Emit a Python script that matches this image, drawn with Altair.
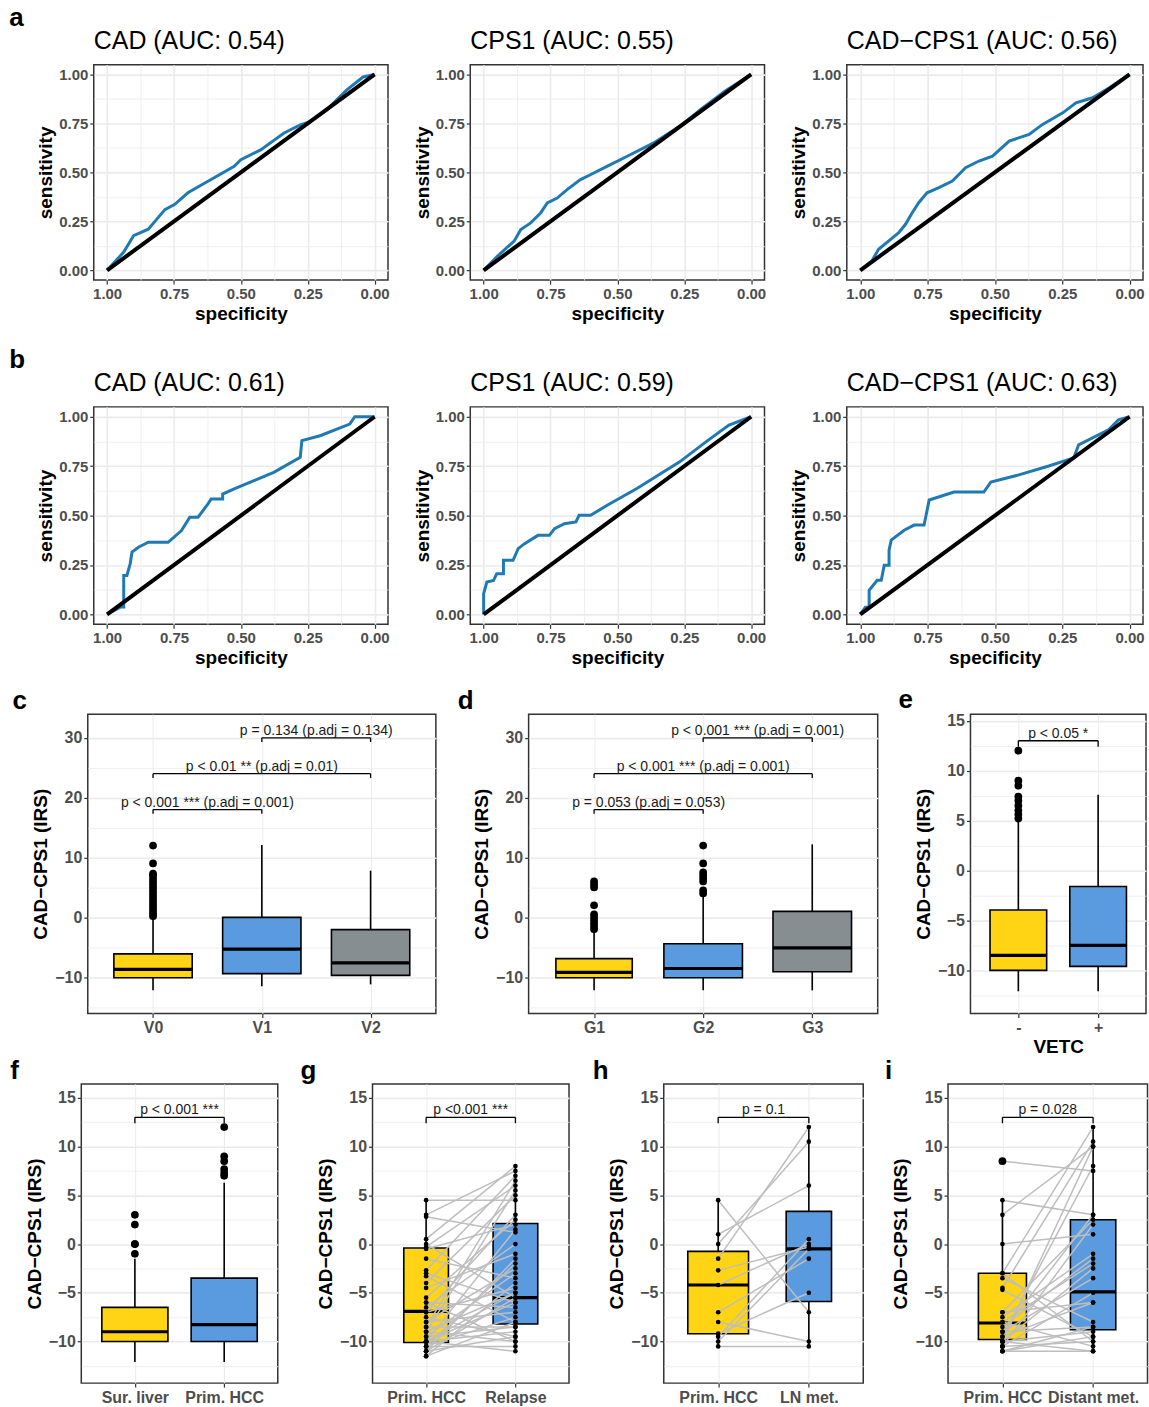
import altair as alt
import pandas as pd

FONT = "Liberation Sans"
ROC_BLUE = "#1f7ab3"
YELLOW = "#FFD414"
BLUE = "#5A9BE0"
GREY = "#878E92"
GRID = "#EBEBEB"

# ---------------- ROC data (specificity, sensitivity) ----------------
a1_spec = [1.0, 0.938, 0.901, 0.846, 0.815, 0.784, 0.747, 0.698, 0.623, 0.525, 0.5, 0.426, 0.34, 0.278, 0.241, 0.18, 0.105, 0.043, 0.0]
a1_sens = [0.0, 0.093, 0.177, 0.21, 0.26, 0.31, 0.337, 0.396, 0.455, 0.531, 0.565, 0.615, 0.70, 0.742, 0.759, 0.818, 0.92, 0.987, 1.0]
a2_spec = [1.0, 0.948, 0.886, 0.861, 0.824, 0.787, 0.762, 0.725, 0.688, 0.638, 0.601, 0.539, 0.465, 0.366, 0.267, 0.18, 0.093, 0.0]
a2_sens = [0.0, 0.073, 0.149, 0.208, 0.242, 0.293, 0.344, 0.369, 0.412, 0.463, 0.488, 0.531, 0.581, 0.649, 0.735, 0.83, 0.92, 1.0]
a3_spec = [1.0, 0.957, 0.932, 0.894, 0.857, 0.832, 0.807, 0.783, 0.752, 0.708, 0.658, 0.609, 0.559, 0.509, 0.447, 0.373, 0.323, 0.248, 0.199, 0.137, 0.075, 0.0]
a3_sens = [0.0, 0.048, 0.107, 0.15, 0.192, 0.235, 0.294, 0.345, 0.396, 0.422, 0.456, 0.524, 0.558, 0.583, 0.66, 0.694, 0.745, 0.804, 0.855, 0.881, 0.932, 1.0]
b1_spec = [1.0, 0.951, 0.938, 0.938, 0.926, 0.914, 0.907, 0.883, 0.846, 0.772, 0.722, 0.691, 0.66, 0.623, 0.611, 0.568, 0.568, 0.525, 0.451, 0.377, 0.278, 0.272, 0.204, 0.093, 0.074, 0.0]
b1_sens = [0.0, 0.037, 0.037, 0.197, 0.197, 0.256, 0.315, 0.34, 0.365, 0.365, 0.424, 0.492, 0.492, 0.559, 0.584, 0.584, 0.609, 0.635, 0.677, 0.719, 0.795, 0.879, 0.904, 0.963, 1.0, 1.0]
b2_spec = [1.0, 1.0, 0.988, 0.963, 0.951, 0.926, 0.926, 0.89, 0.871, 0.847, 0.797, 0.754, 0.735, 0.698, 0.655, 0.643, 0.6, 0.538, 0.427, 0.267, 0.169, 0.083, 0.0]
b2_sens = [0.0, 0.105, 0.164, 0.172, 0.206, 0.206, 0.274, 0.274, 0.333, 0.358, 0.4, 0.4, 0.434, 0.459, 0.468, 0.502, 0.502, 0.552, 0.637, 0.772, 0.873, 0.958, 1.0]
b3_spec = [1.0, 0.981, 0.967, 0.967, 0.937, 0.922, 0.911, 0.893, 0.893, 0.885, 0.837, 0.8, 0.763, 0.744, 0.652, 0.541, 0.515, 0.411, 0.3, 0.207, 0.189, 0.078, 0.041, 0.0]
b3_sens = [0.0, 0.036, 0.036, 0.122, 0.173, 0.173, 0.249, 0.249, 0.325, 0.376, 0.426, 0.452, 0.452, 0.579, 0.619, 0.619, 0.67, 0.706, 0.751, 0.792, 0.858, 0.934, 0.985, 1.0]

roc_titles_a = ["CAD (AUC: 0.54)", "CPS1 (AUC: 0.55)", "CAD\u2212CPS1 (AUC: 0.56)"]
roc_titles_b = ["CAD (AUC: 0.61)", "CPS1 (AUC: 0.59)", "CAD\u2212CPS1 (AUC: 0.63)"]

# ---------------- Box data ----------------
c_groups = ["V0", "V1", "V2"]
c_q1 = [-10.1, -9.4, -9.7]
c_med = [-8.7, -5.3, -7.6]
c_q3 = [-6.1, 0.0, -2.05]
c_lo = [-12.2, -11.5, -11.2]
c_hi = [0.0, 12.1, 7.8]
c_out_idx = [0] * 18
c_out_val = [0.2, 0.6, 1.0, 1.5, 2.0, 2.5, 3.0, 3.5, 4.0, 4.5, 5.0, 5.5, 6.0, 6.5, 7.0, 7.3, 9.0, 12.0]
c_brackets = [(1, 2, 18, "p < 0.001 *** (p.adj = 0.001)"),
              (1, 3, 24, "p < 0.01 ** (p.adj = 0.01)"),
              (2, 3, 30, "p = 0.134 (p.adj = 0.134)")]

d_groups = ["G1", "G2", "G3"]
d_q1 = [-10.1, -10.1, -9.1]
d_med = [-9.2, -8.55, -5.1]
d_q3 = [-6.9, -4.4, 1.0]
d_lo = [-12.2, -12.2, -12.2]
d_hi = [-2.4, 3.7, 12.2]
d_out_idx = [0] * 10 + [1] * 8
d_out_val = [-2.0, -1.5, -1.0, -0.5, 0.0, 0.5, 2.0, 5.0, 5.5, 6.0,
             4.0, 4.5, 6.0, 6.5, 7.0, 7.5, 9.0, 12.0]
d_brackets = [(1, 2, 18, "p = 0.053 (p.adj = 0.053)"),
              (1, 3, 24, "p < 0.001 *** (p.adj = 0.001)"),
              (2, 3, 30, "p < 0.001 *** (p.adj = 0.001)")]

e_groups = ["-", "+"]
e_q1 = [-10.0, -9.6]
e_med = [-8.5, -7.5]
e_q3 = [-3.95, -1.6]
e_lo = [-12.1, -12.1]
e_hi = [5.0, 7.6]
e_out_idx = [0] * 9
e_out_val = [5.2, 5.6, 6.0, 6.5, 7.0, 7.4, 8.5, 9.0, 12.0]
e_brackets = [(1, 2, 13, "p < 0.05 *")]

f_groups = ["Sur. liver", "Prim. HCC"]
f_q1 = [-10.0, -10.0]
f_med = [-9.0, -8.26]
f_q3 = [-6.5, -3.5]
f_lo = [-12.1, -12.1]
f_hi = [-1.5, 6.3]
f_out_idx = [0, 0, 0, 0, 0, 1, 1, 1, 1, 1, 1]
f_out_val = [-1.0, 0.0, 0.0, 2.0, 3.0, 7.0, 7.3, 7.7, 8.5, 9.0, 12.0]
f_brackets = [(1, 2, 13, "p < 0.001 ***")]

g_groups = ["Prim. HCC", "Relapse"]
g_q1 = [-10.1, -8.2]
g_med = [-6.9, -5.5]
g_q3 = [-0.4, 2.1]
g_lo = [-11.5, -11.0]
g_hi = [4.5, 8.1]
g_prim = [4.5, 3.0, 2.8, 0.5, 0.0, -0.3, -0.5, -1.5, -2.7, -3.3, -4.0, -4.5, -5.5, -6.0, -6.5,
          -7.0, -7.0, -7.5, -8.0, -8.0, -8.5, -9.0, -9.0, -9.5, -9.5, -10.0, -10.0, -10.0, -10.0,
          -10.5, -10.5, -10.5, -11.0, -11.0, -11.0, -11.5, -11.5, -9.0, -6.0, -3.0, -8.5, -10.0]
g_rel = [4.5, 7.5, 1.2, 8.0, -5.5, 6.0, 2.0, -3.5, 7.0, -8.0, 5.0, -1.0, 2.5, -6.5, 0.0,
         -4.5, 3.0, -9.5, -2.5, -7.0, 6.5, -5.0, -10.0, -3.0, -8.5, 1.5, -6.0, -9.0, -11.0,
         -2.0, -7.5, -10.5, -1.5, -5.5, -9.5, -4.0, -8.0, 5.5, -10.0, -6.0, -8.5, -5.0]
g_brackets = [(1, 2, 13, "p <0.001 ***")]

h_groups = ["Prim. HCC", "LN met."]
h_q1 = [-9.2, -5.9]
h_med = [-4.2, -0.5]
h_q3 = [-0.75, 3.35]
h_lo = [-10.5, -10.5]
h_hi = [4.5, 12.0]
h_prim = [4.5, 1.0, 0.0, -1.5, -2.7, -4.2, -7.0, -9.2, -9.5, -10.5, -8.0, -10.0]
h_ln = [-7.0, 6.0, 10.5, 12.0, -0.3, 0.0, -1.5, -5.0, 0.5, -10.5, -10.0, -0.5]
h_brackets = [(1, 2, 13, "p = 0.1")]

i_groups = ["Prim. HCC", "Distant met."]
i_q1 = [-9.8, -8.8]
i_med = [-8.1, -4.9]
i_q3 = [-3.0, 2.5]
i_lo = [-11.1, -11.1]
i_hi = [4.5, 12.0]
i_out_idx = [0]
i_out_val = [8.5]
i_prim = [8.5, 4.5, 3.0, 0.0, -3.0, -3.5, -4.5, -4.7, -7.0, -7.5, -8.0, -8.0, -8.5, -9.0, -9.0,
          -9.5, -9.5, -10.0, -10.0, -10.0, -10.5, -10.5, -10.5, -11.0, -11.0, -7.0, -10.0, -9.0, -11.0, -3.0]
i_dist = [7.5, 3.0, 10.0, 1.0, 12.0, -8.0, 10.5, -9.5, 2.5, -1.0, -2.0, -10.5, -1.5, -3.5, -8.5,
          8.0, -6.0, -2.5, -9.0, -11.0, 2.0, -5.0, -10.0, -8.5, -11.0, -6.0, 10.0, 3.0, -9.5, -10.0]
i_brackets = [(1, 2, 13, "p = 0.028")]


def cond(test, a, b):
    return {"condition": {"test": test, "value": a}, "value": b}


def roc_panel(spec, sens, title, w, h):
    curve = pd.DataFrame({"spec": spec, "sens": sens, "i": list(range(len(spec)))})
    diag = pd.DataFrame({"spec": [1.0, 0.0], "sens": [0.0, 1.0], "i": [0, 1]})
    ticks = [k * 0.125 for k in range(9)]
    major = "datum.value % 0.25 === 0"
    common = dict(values=ticks, labelExpr=f"{major} ? format(datum.value, '.2f') : ''",
                  tickOpacity=cond(major, 1, 0), gridWidth=cond(major, 1.6, 0.8),
                  labelFontSize=15, titlePadding=3)
    xax = alt.Axis(title="specificity", **common)
    yax = alt.Axis(title="sensitivity", **common)
    xs = alt.Scale(domain=[-0.05, 1.05], reverse=True, nice=False, zero=False)
    ys = alt.Scale(domain=[-0.05, 1.05], nice=False, zero=False)
    l1 = alt.Chart(curve).mark_line(color=ROC_BLUE, strokeWidth=3).encode(
        x=alt.X("spec:Q", scale=xs, axis=xax), y=alt.Y("sens:Q", scale=ys, axis=yax), order="i:Q")
    l2 = alt.Chart(diag).mark_line(color="black", strokeWidth=4).encode(
        x=alt.X("spec:Q", scale=xs, axis=xax), y=alt.Y("sens:Q", scale=ys, axis=yax), order="i:Q")
    return alt.layer(l1, l2).properties(
        width=w, height=h,
        title=alt.Title(title, anchor="start", frame="group", fontSize=25, fontWeight="normal",
                        font=FONT, color="black", offset=10.5))


def box_panel(cats, q1, med, q3, lo, hi, fills, widths, domain, major, minor, brackets,
              letter, letter_dx, w, h, out_idx=None, out_val=None, pair_a=None, pair_b=None,
              xtitle=None, tip=0.6):
    n = len(cats)
    pos = list(range(1, n + 1))
    hw = "[" + ",".join(str(v / 2) for v in widths) + "][datum.pos-1]"
    bdf = pd.DataFrame({"pos": pos, "cat": cats, "q1": q1, "med": med, "q3": q3, "lo": lo, "hi": hi})
    lab = "[" + ",".join("'" + c + "'" for c in cats) + "][datum.value-1]"
    xs = alt.Scale(domain=[0.4, n + 0.6], nice=False, zero=False)
    xax = alt.Axis(values=pos, labelExpr=lab, title=xtitle, labelFontSize=16, titlePadding=2)
    start = -(int(-domain[0] // minor)) * minor
    vals = []
    v = start
    while v <= domain[1]:
        vals.append(round(v, 3))
        v += minor
    mt = f"datum.value % {major} === 0"
    yax = alt.Axis(values=vals, labelExpr=f"{mt} ? format(datum.value, 'd') : ''",
                   tickOpacity=cond(mt, 1, 0), gridWidth=cond(mt, 1.6, 0.8),
                   labelFontSize=16, title="CAD\u2212CPS1 (IRS)", titlePadding=4)
    ys = alt.Scale(domain=domain, nice=False, zero=False)

    def X(f):
        return alt.X(f, scale=xs, axis=xax)

    def Y(f):
        return alt.Y(f, scale=ys, axis=yax)

    layers = []
    layers.append(alt.Chart(bdf).mark_rule(color="black", strokeWidth=1.6).encode(
        x=X("pos:Q"), y=Y("lo:Q"), y2="hi:Q"))
    for k, col in enumerate(fills):
        layers.append(alt.Chart(bdf).transform_filter(f"datum.pos == {k + 1}").transform_calculate(
            xl=f"datum.pos - {hw}", xr=f"datum.pos + {hw}").mark_bar(
            fill=col, stroke="black", strokeWidth=1.6, opacity=1).encode(
            x=X("xl:Q"), x2="xr:Q", y=Y("q1:Q"), y2="q3:Q"))
    layers.append(alt.Chart(bdf).transform_calculate(
        xl=f"datum.pos - {hw}", xr=f"datum.pos + {hw}").mark_rule(
        color="black", strokeWidth=3.2).encode(x=X("xl:Q"), x2="xr:Q", y=Y("med:Q")))
    if pair_a is not None:
        rows = []
        for k, (a, b) in enumerate(zip(pair_a, pair_b)):
            rows.append({"pid": k, "pos": 1, "v": a})
            rows.append({"pid": k, "pos": 2, "v": b})
        pdf = pd.DataFrame(rows)
        layers.append(alt.Chart(pdf).mark_line(color="#BEBEBE", strokeWidth=1.5).encode(
            x=X("pos:Q"), y=Y("v:Q"), detail="pid:N"))
        layers.append(alt.Chart(pdf).mark_circle(color="black", size=22, opacity=1).encode(
            x=X("pos:Q"), y=Y("v:Q")))
    if out_val is not None:
        odf = pd.DataFrame({"pos": [k + 1 for k in out_idx], "v": out_val})
        layers.append(alt.Chart(odf).mark_circle(color="black", size=60, opacity=1).encode(
            x=X("pos:Q"), y=Y("v:Q")))
    brdf = pd.DataFrame({"x1": [b[0] for b in brackets], "x2": [b[1] for b in brackets],
                         "y": [b[2] for b in brackets], "lab": [b[3] for b in brackets]})
    tips = []
    for b in brackets:
        tips.append({"pos": b[0], "y": b[2]})
        tips.append({"pos": b[1], "y": b[2]})
    tdf = pd.DataFrame(tips)
    layers.append(alt.Chart(brdf).mark_rule(color="black", strokeWidth=1.3).encode(
        x=X("x1:Q"), x2="x2:Q", y=Y("y:Q")))
    layers.append(alt.Chart(tdf).transform_calculate(yb=f"datum.y - {tip}").mark_rule(
        color="black", strokeWidth=1.3).encode(x=X("pos:Q"), y=Y("y:Q"), y2="yb:Q"))
    layers.append(alt.Chart(brdf).transform_calculate(xm="(datum.x1 + datum.x2) / 2").mark_text(
        font=FONT, fontSize=14, color="#1a1a1a", baseline="alphabetic", dy=-3).encode(
        x=X("xm:Q"), y=Y("y:Q"), text="lab:N"))
    return alt.layer(*layers).properties(
        width=w, height=h,
        title=alt.Title(letter, anchor="start", frame="bounds", fontSize=26, fontWeight="bold",
                        font=FONT, color="black", dx=letter_dx, offset=0))


def letter_title(t, dx):
    return alt.Title(t, anchor="start", frame="bounds", fontSize=26, fontWeight="bold",
                     font=FONT, color="black", dx=dx, offset=-2)


def spacer():
    return alt.Chart(pd.DataFrame({"v": [0]})).mark_point(size=0, strokeWidth=0, opacity=0).encode(
        x=alt.value(0), y=alt.value(0)).properties(width=1, height=1,
                                                  view=alt.ViewBackground(strokeOpacity=0))


a1 = roc_panel(a1_spec, a1_sens, roc_titles_a[0], 295, 216)
a2 = roc_panel(a2_spec, a2_sens, roc_titles_a[1], 295, 216)
a3 = roc_panel(a3_spec, a3_sens, roc_titles_a[2], 297, 216)
b1 = roc_panel(b1_spec, b1_sens, roc_titles_b[0], 295, 218)
b2 = roc_panel(b2_spec, b2_sens, roc_titles_b[1], 295, 218)
b3 = roc_panel(b3_spec, b3_sens, roc_titles_b[2], 297, 218)

rowA = alt.hconcat(a1, a2, a3, spacing=82.5, bounds="flush").properties(title=letter_title("a", -26.7))
rowB = alt.hconcat(b1, b2, b3, spacing=82.5, bounds="flush").properties(title=letter_title("b", -26.7))

c_dom = [-16.05, 33.95]
pc = box_panel(c_groups, c_q1, c_med, c_q3, c_lo, c_hi, [YELLOW, BLUE, GREY], [0.72, 0.72, 0.72],
               c_dom, 10, 5, c_brackets, "c", -19.3, 349, 300, out_idx=c_out_idx, out_val=c_out_val, tip=0.7)
pd_ = box_panel(d_groups, d_q1, d_med, d_q3, d_lo, d_hi, [YELLOW, BLUE, GREY], [0.7, 0.72, 0.72],
                c_dom, 10, 5, d_brackets, "d", -15, 350, 300, out_idx=d_out_idx, out_val=d_out_val, tip=0.7)
pe = box_panel(e_groups, e_q1, e_med, e_q3, e_lo, e_hi, [YELLOW, BLUE], [0.71, 0.71],
               [-14.31, 15.66], 5, 2.5, e_brackets, "e", -16, 176, 300, out_idx=e_out_idx,
               out_val=e_out_val, xtitle="VETC")
fi_dom = [-14.27, 16.43]
pf = box_panel(f_groups, f_q1, f_med, f_q3, f_lo, f_hi, [YELLOW, BLUE], [0.74, 0.74],
               fi_dom, 5, 2.5, f_brackets, "f", -15.1, 197, 300, out_idx=f_out_idx, out_val=f_out_val)
pg = box_panel(g_groups, g_q1, g_med, g_q3, g_lo, g_hi, [YELLOW, BLUE], [0.5, 0.5],
               fi_dom, 5, 2.5, g_brackets, "g", -16, 197, 300, pair_a=g_prim, pair_b=g_rel)
ph = box_panel(h_groups, h_q1, h_med, h_q3, h_lo, h_hi, [YELLOW, BLUE], [0.67, 0.5],
               fi_dom, 5, 2.5, h_brackets, "h", -15, 200, 300, pair_a=h_prim, pair_b=h_ln)
pi = box_panel(i_groups, i_q1, i_med, i_q3, i_lo, i_hi, [YELLOW, BLUE], [0.53, 0.5],
               fi_dom, 5, 2.5, i_brackets, "i", -7, 200, 300, out_idx=i_out_idx, out_val=i_out_val,
               pair_a=i_prim, pair_b=i_dist)

rowC = alt.hconcat(pc, pd_, pe, spacing=93, bounds="flush")
rowF = alt.hconcat(alt.hconcat(pf, pg, ph, spacing=95, bounds="flush"), pi, spacing=20)

rowA_s = alt.hconcat(spacer(), rowA, spacing=4)
rowB_s = alt.hconcat(spacer(), rowB, spacing=4)
rowC_s = alt.hconcat(spacer(), rowC, spacing=6)
rowF_s = alt.hconcat(spacer(), rowF, spacing=4.5)

AB = alt.concat(rowA_s, rowB_s, columns=1, spacing=22.1)
CF = alt.concat(rowC_s, rowF_s, columns=1, spacing=-0.3)

chart = alt.concat(AB, CF, columns=1, spacing=17.2).properties(
    padding={"left": 4, "top": 2, "right": 0, "bottom": 0}
).configure_view(
    stroke="#333333", strokeWidth=1.5
).configure_axis(
    domain=False, grid=True, gridColor=GRID, labelFont=FONT, labelFontWeight="bold",
    labelColor="#4D4D4D", tickColor="#333333", tickSize=4, tickWidth=1.2, labelPadding=2,
    titleFont=FONT, titleFontWeight="bold", titleFontSize=19, titleColor="black"
).configure_title(font=FONT)

chart.save("out.html", embed_options={"renderer": "svg", "actions": False})
